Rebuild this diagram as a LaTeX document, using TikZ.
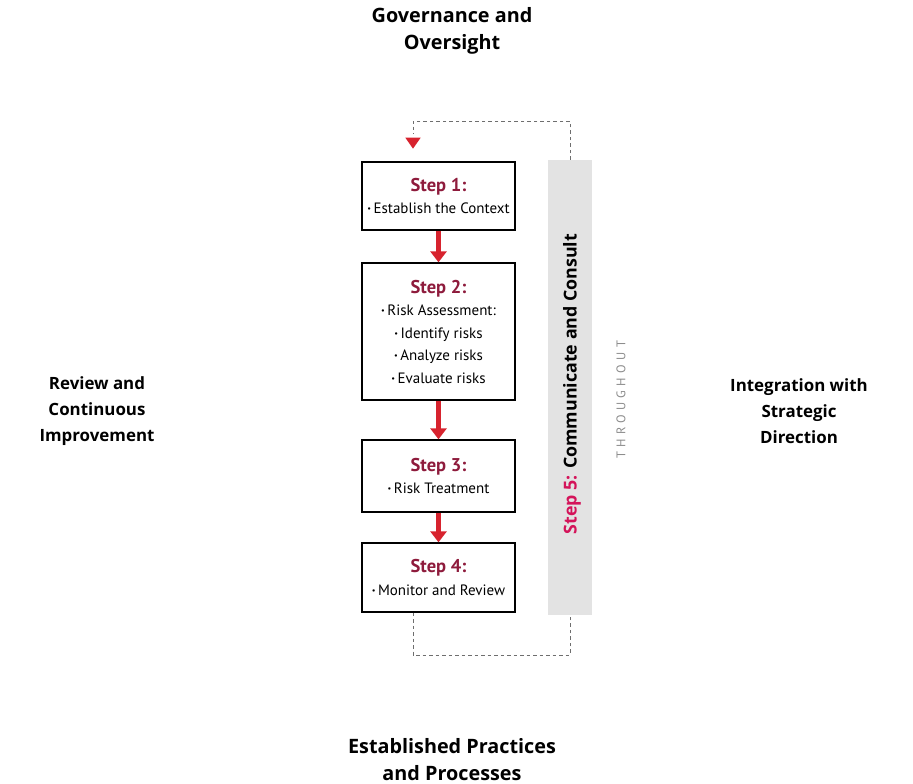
\documentclass[tikz,border=0pt]{standalone}
\usepackage{fontspec}
\setmainfont{PT Sans}
\newfontfamily\thrfont[LetterSpace=35]{PT Sans}
\newfontfamily\labfont{Open Sans}
\usetikzlibrary{arrows.meta,positioning,shapes.geometric}
\definecolor{stepred}{HTML}{8E1B3C}
\definecolor{arrred}{HTML}{D7232E}
\definecolor{fivered}{HTML}{D4145A}
\definecolor{dashgray}{HTML}{6E6E6E}
\tikzset{
  stepbox/.style={draw=black, line width=1.3pt, fill=white, minimum width=153pt, align=center, inner sep=0pt, font=\fontsize{15}{22.5}\selectfont},
  flowarrow/.style={draw=arrred, line width=4.5pt, -{Triangle[width=16pt,length=11pt]}},
  loopline/.style={draw=dashgray, line width=1pt, dash pattern=on 3.5pt off 3pt},
  sidelabel/.style={align=center, font=\labfont\fontsize{16.9}{26}\selectfont\bfseries},
  biglabel/.style={align=center, font=\labfont\fontsize{19.8}{27}\selectfont\bfseries},
}
\newcommand{\bul}{\raisebox{0.25ex}{\scalebox{0.55}{•}}\,}
\newcommand{\stp}[1]{{\color{stepred}\fontsize{18.5}{22.5}\selectfont\bfseries #1}}
\begin{document}
\begin{tikzpicture}[x=1pt,y=-1pt]
\useasboundingbox (0,0) rectangle (913,784);
% boxes
\node[stepbox, minimum height=68pt] (s1) at (438.5,196) {\stp{Step 1:}\\ \bul Establish the Context};
\node[stepbox, minimum height=137pt] (s2) at (438.5,331.5) {\stp{Step 2:}\\ \bul Risk Assessment:\\ \bul Identify risks\\ \bul Analyze risks\\ \bul Evaluate risks};
\node[stepbox, minimum height=72pt] (s3) at (438.5,476) {\stp{Step 3:}\\ \bul Risk Treatment};
\node[stepbox, minimum height=69pt] (s4) at (438.5,577.5) {\stp{Step 4:}\\ \bul Monitor and Review};
% side bar
\node[fill=black!11, minimum width=44pt, minimum height=455pt, inner sep=0pt] (bar) at (570,387.5) {};
\node[rotate=90, font=\labfont\fontsize{17.8}{20}\selectfont\bfseries, inner sep=0pt] (s5) at (572,384) {{\color{fivered}Step 5:} Communicate and Consult};
\node[rotate=90, font=\fontsize{12.5}{14}\thrfont, text=black!45, inner sep=0pt] (thr) at (621,400) {THROUGHOUT};
% flow arrows
\draw[flowarrow] (s1.south) -- (s2.north);
\draw[flowarrow] (s2.south) -- (s3.north);
\draw[flowarrow] (s3.south) -- (s4.north);
% loop
\coordinate (tl) at (413,121);
\coordinate (tr) at (570,121);
\coordinate (ta) at (413,134);
\coordinate (bl) at (413,655);
\coordinate (br) at (570,655);
\draw[loopline] (bar.north) -- (tr) -- (tl) -- (ta);
\node[fill=arrred, isosceles triangle, isosceles triangle apex angle=70, shape border rotate=-90, minimum width=0pt, inner sep=3.2pt, anchor=apex] (ah) at (413,149) {};
\draw[loopline] (s4.south -| bl) -- (bl) -- (br) -- (bar.south);
% side labels
\node[biglabel] (top) at (452,31) {Governance and\\Oversight};
\node[biglabel] (bot) at (452,760) {Established Practices\\and Processes};
\node[sidelabel] (left) at (97,411) {Review and\\Continuous\\Improvement};
\node[sidelabel] (right) at (799,411) {Integration with\\Strategic\\Direction};
\end{tikzpicture}
\end{document}
